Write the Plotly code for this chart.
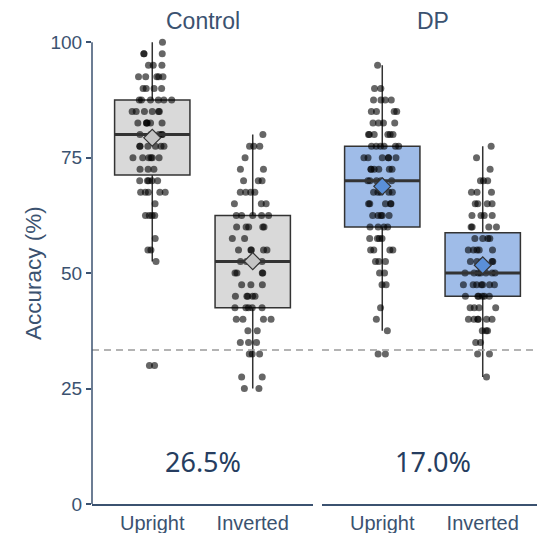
import plotly.graph_objects as go

# ---------------- data ----------------
groups = ["Control", "DP"]
conditions = ["Upright", "Inverted"]
cond_pos = [1, 2]

# individual accuracies (level, number of participants at that level)
control_upright_levels = [100, 97.5, 95, 92.5, 90, 87.5, 85, 82.5, 80, 77.5, 75, 72.5, 70, 67.5, 65, 62.5, 57.5, 55, 52.5, 30]
control_upright_counts = [1, 3, 3, 5, 4, 6, 6, 6, 5, 6, 6, 3, 5, 5, 1, 4, 1, 2, 1, 2]

control_inverted_levels = [80, 77.5, 75, 72.5, 70, 67.5, 65, 62.5, 60, 57.5, 55, 52.5, 50, 47.5, 45, 42.5, 40, 37.5, 35, 32.5, 27.5, 25]
control_inverted_counts = [1, 3, 1, 2, 3, 4, 3, 5, 5, 2, 5, 4, 4, 3, 5, 5, 4, 2, 3, 3, 2, 2]

dp_upright_levels = [95, 90, 87.5, 85, 82.5, 80, 77.5, 75, 72.5, 70, 67.5, 65, 62.5, 60, 57.5, 55, 52.5, 50, 47.5, 42.5, 40, 37.5, 32.5]
dp_upright_counts = [1, 2, 4, 4, 4, 6, 6, 6, 6, 5, 5, 5, 5, 4, 4, 4, 3, 2, 2, 1, 1, 1, 2]

dp_inverted_levels = [77.5, 75, 72.5, 70, 67.5, 65, 62.5, 60, 57.5, 55, 52.5, 50, 47.5, 45, 42.5, 40, 37.5, 35, 32.5, 27.5]
dp_inverted_counts = [1, 1, 1, 3, 3, 4, 4, 4, 4, 5, 5, 7, 7, 6, 4, 6, 3, 2, 2, 1]

# box summary statistics [Upright, Inverted]
box_q1 = {"Control": [71.25, 42.5], "DP": [60, 45]}
box_median = {"Control": [80, 52.5], "DP": [70, 50]}
box_q3 = {"Control": [87.5, 62.5], "DP": [77.5, 58.75]}
whisker_low = {"Control": [52.5, 25], "DP": [37.5, 27.5]}
whisker_high = {"Control": [100, 80], "DP": [95, 77.5]}
group_means = {"Control": [79.3, 52.6], "DP": [68.8, 51.7]}

inversion_effect = {"Control": "26.5%", "DP": "17.0%"}
chance_level = 100 / 3
y_ticks = [0, 25, 50, 75, 100]


def expand(levels, counts):
    return [v for v, c in zip(levels, counts) for _ in range(c)]


raw = {
    "Control": [expand(control_upright_levels, control_upright_counts),
                expand(control_inverted_levels, control_inverted_counts)],
    "DP": [expand(dp_upright_levels, dp_upright_counts),
           expand(dp_inverted_levels, dp_inverted_counts)],
}

# ---------------- style ----------------
TXT = "#3b5270"
TXT_DARK = "#263d60"
LINE = "#333333"
box_fill = {"Control": "#d9d9d9", "DP": "#9fbce8"}
mean_fill = {"Control": "#c4c4c4", "DP": "#5a8fd8"}
BW = 0.75
FONT = "Liberation Sans, Arial, sans-serif"

fig = go.Figure()
axes = {"Control": ("x", "y"), "DP": ("x2", "y2")}

for g in groups:
    xa, ya = axes[g]
    for i, c in enumerate(conditions):
        p = cond_pos[i]
        # box from summary stats
        fig.add_trace(go.Box(
            x=[p], q1=[box_q1[g][i]], median=[box_median[g][i]], q3=[box_q3[g][i]],
            lowerfence=[whisker_low[g][i]], upperfence=[whisker_high[g][i]],
            width=BW, whiskerwidth=0, boxpoints=False,
            fillcolor=box_fill[g], line=dict(color=LINE, width=1.5),
            xaxis=xa, yaxis=ya, showlegend=False, hoverinfo="skip"))
        # thicker median
        fig.add_trace(go.Scatter(
            x=[p - BW / 2, p + BW / 2], y=[box_median[g][i]] * 2, mode="lines",
            line=dict(color=LINE, width=3), xaxis=xa, yaxis=ya,
            showlegend=False, hoverinfo="skip"))
        # jittered individual points
        vals = raw[g][i]
        fig.add_trace(go.Box(
            x=[p] * len(vals), y=vals, width=BW, boxpoints="all", jitter=0.55,
            pointpos=0, fillcolor="rgba(0,0,0,0)",
            line=dict(color="rgba(0,0,0,0)", width=0),
            marker=dict(color="rgba(0,0,0,0.6)", size=7, line=dict(width=0)),
            xaxis=xa, yaxis=ya, showlegend=False, hoveron="points"))
        # mean diamond
        fig.add_trace(go.Scatter(
            x=[p], y=[group_means[g][i]], mode="markers",
            marker=dict(symbol="diamond", size=13, color=mean_fill[g],
                        line=dict(color=LINE, width=1.2)),
            xaxis=xa, yaxis=ya, showlegend=False, cliponaxis=False))

    # facet title
    fig.add_annotation(text=g, x=1.5, xref=xa, y=1.0255, yref="paper",
                       showarrow=False, font=dict(family=FONT, size=23, color=TXT),
                       xanchor="center", yanchor="middle")
    # inversion effect text
    fig.add_annotation(text=inversion_effect[g], x=1.5, xref=xa, y=9.1, yref=ya,
                       showarrow=False,
                       font=dict(family="Noto Sans, sans-serif", size=27, color=TXT_DARK),
                       xanchor="center", yanchor="middle")
    # chance line
    fig.add_shape(type="line", xref=xa + " domain", x0=0, x1=1, yref=ya,
                  y0=chance_level, y1=chance_level,
                  line=dict(color="#9a9a9a", width=1.5, dash="7px,5px"))

# y axis line (0..100)
fig.add_shape(type="line", xref="x domain", x0=0, x1=0, yref="y", y0=0, y1=100,
              line=dict(color=TXT, width=1.5))

# y axis title
fig.add_annotation(text="Accuracy (%)", x=-0.1326, xref="paper", y=50, yref="y",
                   textangle=-90, showarrow=False, xanchor="center", yanchor="middle",
                   font=dict(family=FONT, size=22.5, color=TXT))

W, H = 537, 533
ml, mr, mt, mb = 92, 0, 33, 29
pw = W - ml - mr
px_per_unit = 221 / 2.2

xcommon = dict(tickmode="array", tickvals=cond_pos, ticktext=conditions,
               showline=True, linecolor=TXT, linewidth=1.5, ticks="",
               tickfont=dict(family=FONT, size=20, color=TXT),
               showgrid=False, zeroline=False, fixedrange=True)

fig.update_layout(
    width=W, height=H,
    margin=dict(l=ml, r=mr, t=mt, b=mb, pad=0, autoexpand=False),
    paper_bgcolor="white", plot_bgcolor="white",
    showlegend=False,
    xaxis=dict(domain=[0, 221 / pw], range=[0.4, 2.6], **xcommon),
    xaxis2=dict(domain=[230 / pw, 1], range=[0.4, 0.4 + (pw - 230) / px_per_unit], **xcommon),
    yaxis=dict(range=[0, 102], tickvals=y_ticks, ticks="outside", ticklen=5,
               tickcolor=TXT, tickwidth=1.5, showline=False, showgrid=False,
               zeroline=False, tickfont=dict(family=FONT, size=19, color=TXT)),
    yaxis2=dict(range=[0, 102], anchor="x2", showticklabels=False, ticks="",
                showline=False, showgrid=False, zeroline=False),
)

fig.write_html("out.html", config={"displayModeBar": False},
               post_script="document.body.style.margin='0';document.body.style.overflow='hidden';")
